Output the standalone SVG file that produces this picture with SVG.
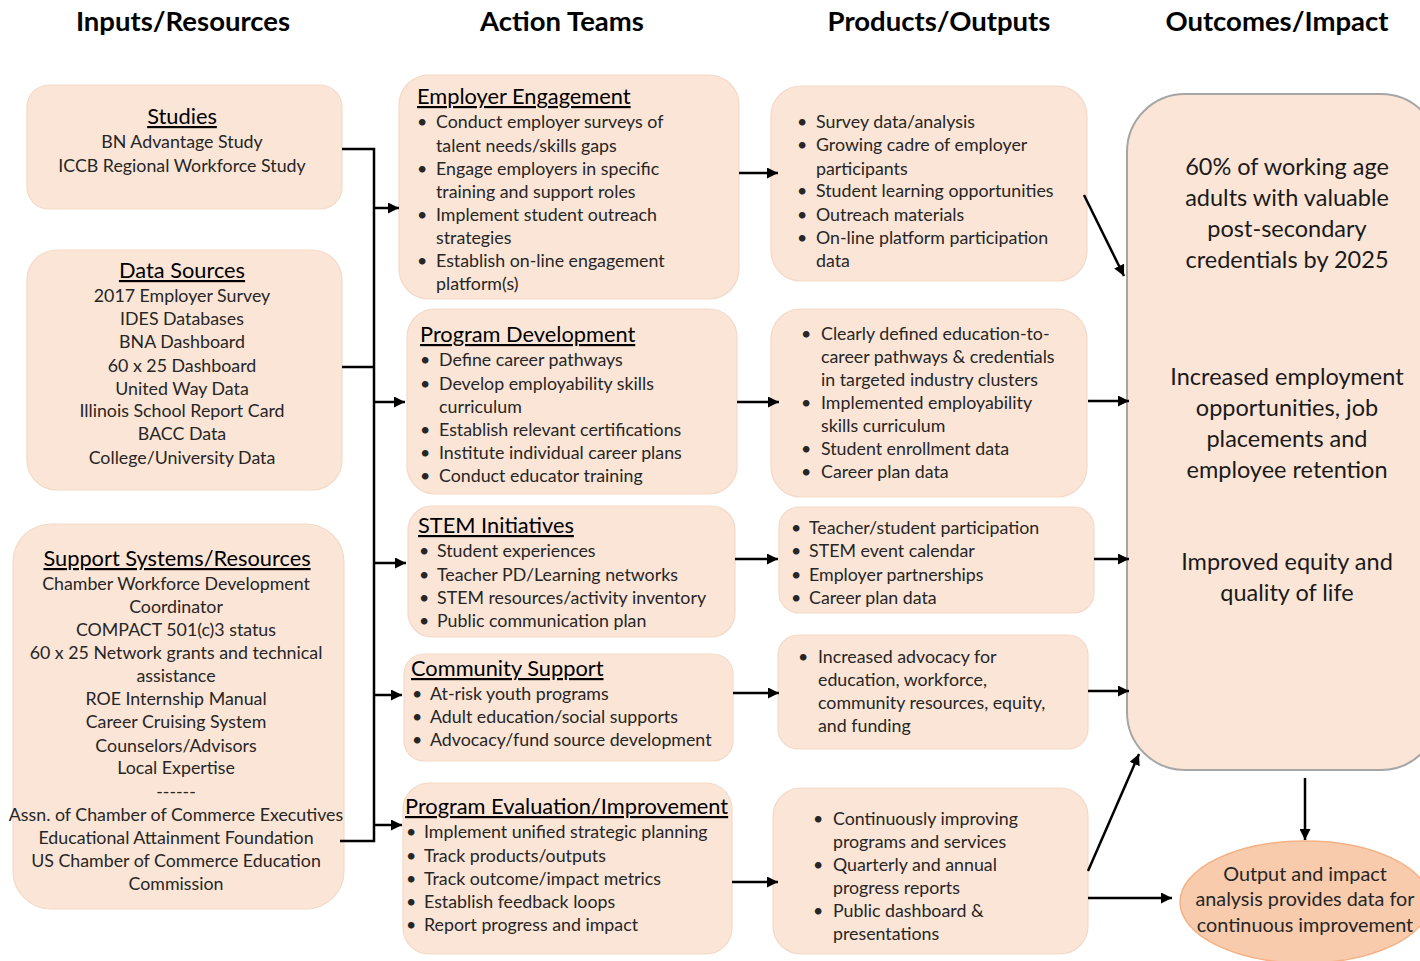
<svg xmlns="http://www.w3.org/2000/svg" width="1420" height="961" viewBox="0 0 1420 961">
<defs>
<marker id="ah" viewBox="0 0 10 10" refX="10" refY="5" markerWidth="4.4" markerHeight="4.4" markerUnits="strokeWidth" orient="auto"><path d="M0,0 L10,5 L0,10 z" fill="#000"/></marker>
<style>
.box{fill:#fbe5d6;stroke:#f3d9c8;stroke-width:1.2}
.out{fill:#fbe5d6;stroke:#a6a6a6;stroke-width:2}
.ell{fill:#f8cbad;stroke:#f4b183;stroke-width:1.5}
.hd{font-family:Lato,"Liberation Sans",sans-serif;font-weight:bold;font-size:27.5px;fill:#000;text-anchor:middle}
text{font-family:Lato,"Liberation Sans",sans-serif;fill:#262626}
.t{font-size:17.8px}
.c{text-anchor:middle}
.ti{font-size:21.8px;text-decoration:underline;fill:#000}
.o{font-size:23.5px;text-anchor:middle;fill:#1a1a1a}
.e{font-size:19.8px;text-anchor:middle}
.ln{fill:none;stroke:#000;stroke-width:2.5}
.ar{fill:none;stroke:#000;stroke-width:2.5;marker-end:url(#ah)}
</style>
</defs>
<rect width="1420" height="961" fill="#fff"/>

<g id="headers">
<text class="hd" x="183" y="31">Inputs/Resources</text>
<text class="hd" x="562" y="31">Action Teams</text>
<text class="hd" x="939" y="31">Products/Outputs</text>
<text class="hd" x="1277" y="31">Outcomes/Impact</text>
</g>

<g id="studies">
<rect class="box" x="27" y="85" width="315" height="124" rx="22"/>
<text class="ti c" x="182" y="124">Studies</text>
<text class="t c" x="182" y="148">BN Advantage Study</text>
<text class="t c" x="182" y="172">ICCB Regional Workforce Study</text>
</g>

<g id="data-sources">
<rect class="box" x="27" y="250" width="315" height="240" rx="30"/>
<text class="ti c" x="182" y="278">Data Sources</text>
<text class="t c" x="182" y="302">2017 Employer Survey</text>
<text class="t c" x="182" y="325">IDES Databases</text>
<text class="t c" x="182" y="348">BNA Dashboard</text>
<text class="t c" x="182" y="372">60 x 25 Dashboard</text>
<text class="t c" x="182" y="395">United Way Data</text>
<text class="t c" x="182" y="417">Illinois School Report Card</text>
<text class="t c" x="182" y="440">BACC Data</text>
<text class="t c" x="182" y="464">College/University Data</text>
</g>

<g id="support-systems">
<rect class="box" x="13" y="524" width="331" height="385" rx="38"/>
<text class="ti c" x="177" y="566">Support Systems/Resources</text>
<text class="t c" x="176" y="590">Chamber Workforce Development</text>
<text class="t c" x="176" y="613">Coordinator</text>
<text class="t c" x="176" y="636">COMPACT 501(c)3 status</text>
<text class="t c" x="176" y="659">60 x 25 Network grants and technical</text>
<text class="t c" x="176" y="682">assistance</text>
<text class="t c" x="176" y="705">ROE Internship Manual</text>
<text class="t c" x="176" y="728">Career Cruising System</text>
<text class="t c" x="176" y="752">Counselors/Advisors</text>
<text class="t c" x="176" y="774">Local Expertise</text>
<text class="t c" x="176" y="798">------</text>
<text class="t c" x="176" y="821">Assn. of Chamber of Commerce Executives</text>
<text class="t c" x="176" y="844">Educational Attainment Foundation</text>
<text class="t c" x="176" y="867">US Chamber of Commerce Education</text>
<text class="t c" x="176" y="890">Commission</text>
</g>

<g id="employer-engagement">
<rect class="box" x="399" y="75" width="340" height="224" rx="30"/>
<text class="ti" x="417" y="104">Employer Engagement</text>
<g class="t">
<text x="417" y="128">•</text><text x="436" y="128">Conduct employer surveys of</text>
<text x="436" y="152">talent needs/skills gaps</text>
<text x="417" y="175">•</text><text x="436" y="175">Engage employers in specific</text>
<text x="436" y="198">training and support roles</text>
<text x="417" y="221">•</text><text x="436" y="221">Implement student outreach</text>
<text x="436" y="244">strategies</text>
<text x="417" y="267">•</text><text x="436" y="267">Establish on-line engagement</text>
<text x="436" y="290">platform(s)</text>
</g>
</g>

<g id="program-development">
<rect class="box" x="407" y="309" width="330" height="185" rx="28"/>
<text class="ti" x="420" y="342">Program Development</text>
<g class="t">
<text x="420" y="366">•</text><text x="439" y="366">Define career pathways</text>
<text x="420" y="390">•</text><text x="439" y="390">Develop employability skills</text>
<text x="439" y="413">curriculum</text>
<text x="420" y="436">•</text><text x="439" y="436">Establish relevant certifications</text>
<text x="420" y="459">•</text><text x="439" y="459">Institute individual career plans</text>
<text x="420" y="482">•</text><text x="439" y="482">Conduct educator training</text>
</g>
</g>

<g id="stem-initiatives">
<rect class="box" x="408" y="506" width="327" height="131" rx="24"/>
<text class="ti" x="418" y="533">STEM Initiatives</text>
<g class="t">
<text x="419" y="557">•</text><text x="437" y="557">Student experiences</text>
<text x="419" y="581">•</text><text x="437" y="581">Teacher PD/Learning networks</text>
<text x="419" y="604">•</text><text x="437" y="604">STEM resources/activity inventory</text>
<text x="419" y="627">•</text><text x="437" y="627">Public communication plan</text>
</g>
</g>

<g id="community-support">
<rect class="box" x="404" y="654" width="329" height="107" rx="20"/>
<text class="ti" x="411" y="676">Community Support</text>
<g class="t">
<text x="412" y="700">•</text><text x="430" y="700">At-risk youth programs</text>
<text x="412" y="723">•</text><text x="430" y="723">Adult education/social supports</text>
<text x="412" y="746">•</text><text x="430" y="746">Advocacy/fund source development</text>
</g>
</g>

<g id="program-evaluation">
<rect class="box" x="403" y="783" width="329" height="171" rx="26"/>
<text class="ti" x="405" y="814">Program Evaluation/Improvement</text>
<g class="t">
<text x="406" y="838">•</text><text x="424" y="838">Implement unified strategic planning</text>
<text x="406" y="862">•</text><text x="424" y="862">Track products/outputs</text>
<text x="406" y="885">•</text><text x="424" y="885">Track outcome/impact metrics</text>
<text x="406" y="908">•</text><text x="424" y="908">Establish feedback loops</text>
<text x="406" y="931">•</text><text x="424" y="931">Report progress and impact</text>
</g>
</g>

<g id="products-1">
<rect class="box" x="771" y="86" width="316" height="195" rx="30"/>
<g class="t">
<text x="797" y="128">•</text><text x="816" y="128">Survey data/analysis</text>
<text x="797" y="151">•</text><text x="816" y="151">Growing cadre of employer</text>
<text x="816" y="175">participants</text>
<text x="797" y="197">•</text><text x="816" y="197">Student learning opportunities</text>
<text x="797" y="221">•</text><text x="816" y="221">Outreach materials</text>
<text x="797" y="244">•</text><text x="816" y="244">On-line platform participation</text>
<text x="816" y="267">data</text>
</g>
</g>

<g id="products-2">
<rect class="box" x="771" y="309" width="316" height="188" rx="30"/>
<g class="t">
<text x="801" y="340">•</text><text x="821" y="340">Clearly defined education-to-</text>
<text x="821" y="363">career pathways &amp; credentials</text>
<text x="821" y="386">in targeted industry clusters</text>
<text x="801" y="409">•</text><text x="821" y="409">Implemented employability</text>
<text x="821" y="432">skills curriculum</text>
<text x="801" y="455">•</text><text x="821" y="455">Student enrollment data</text>
<text x="801" y="478">•</text><text x="821" y="478">Career plan data</text>
</g>
</g>

<g id="products-3">
<rect class="box" x="779" y="507" width="315" height="106" rx="20"/>
<g class="t">
<text x="791" y="534">•</text><text x="809" y="534">Teacher/student participation</text>
<text x="791" y="557">•</text><text x="809" y="557">STEM event calendar</text>
<text x="791" y="581">•</text><text x="809" y="581">Employer partnerships</text>
<text x="791" y="604">•</text><text x="809" y="604">Career plan data</text>
</g>
</g>

<g id="products-4">
<rect class="box" x="778" y="635" width="310" height="114" rx="20"/>
<g class="t">
<text x="798" y="663">•</text><text x="818" y="663">Increased advocacy for</text>
<text x="818" y="686">education, workforce,</text>
<text x="818" y="709">community resources, equity,</text>
<text x="818" y="732">and funding</text>
</g>
</g>

<g id="products-5">
<rect class="box" x="773" y="788" width="315" height="166" rx="28"/>
<g class="t">
<text x="813" y="825">•</text><text x="833" y="825">Continuously improving</text>
<text x="833" y="848">programs and services</text>
<text x="813" y="871">•</text><text x="833" y="871">Quarterly and annual</text>
<text x="833" y="894">progress reports</text>
<text x="813" y="917">•</text><text x="833" y="917">Public dashboard &amp;</text>
<text x="833" y="940">presentations</text>
</g>
</g>

<g id="outcomes">
<rect class="out" x="1127" y="94" width="312" height="676" rx="58"/>
<text class="o" x="1287" y="175">60% of working age</text>
<text class="o" x="1287" y="206">adults with valuable</text>
<text class="o" x="1287" y="237">post-secondary</text>
<text class="o" x="1287" y="268">credentials by 2025</text>
<text class="o" x="1287" y="385">Increased employment</text>
<text class="o" x="1287" y="416">opportunities, job</text>
<text class="o" x="1287" y="447">placements and</text>
<text class="o" x="1287" y="478">employee retention</text>
<text class="o" x="1287" y="570">Improved equity and</text>
<text class="o" x="1287" y="601">quality of life</text>
</g>

<g id="analysis">
<ellipse class="ell" cx="1305" cy="902" rx="125" ry="61"/>
<text class="e" x="1305" y="881">Output and impact</text>
<text class="e" x="1305" y="906">analysis provides data for</text>
<text class="e" x="1305" y="932">continuous improvement</text>
</g>

<g id="connectors">
<path class="ln" d="M342 149 H374 V841 H340"/>
<path class="ln" d="M342 367 H374"/>
<path class="ar" d="M374 208 H399"/>
<path class="ar" d="M374 402 H405"/>
<path class="ar" d="M374 563 H406"/>
<path class="ar" d="M374 695 H402"/>
<path class="ar" d="M374 825 H402"/>
<path class="ar" d="M739 173 H778"/>
<path class="ar" d="M737 402 H779"/>
<path class="ar" d="M735 559 H778"/>
<path class="ar" d="M733 693 H779"/>
<path class="ar" d="M732 882 H778"/>
<path class="ar" d="M1084 195 L1124 276"/>
<path class="ar" d="M1088 401 H1129"/>
<path class="ar" d="M1094 559 H1129"/>
<path class="ar" d="M1088 691 H1129"/>
<path class="ar" d="M1088 871 L1139 754"/>
<path class="ar" d="M1088 898 H1172"/>
<path class="ar" d="M1305 778 V840"/>
</g>
</svg>
